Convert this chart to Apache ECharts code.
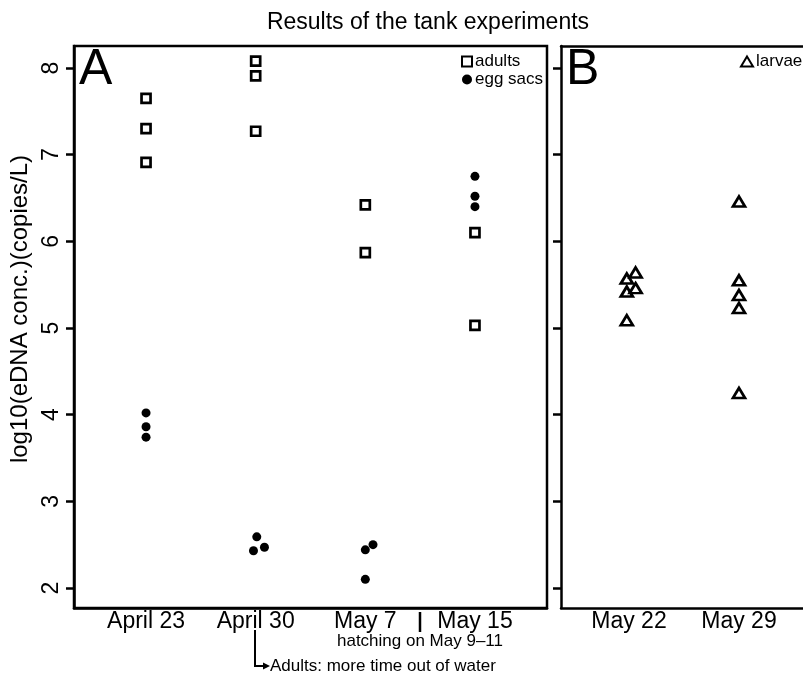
<!DOCTYPE html>
<html>
<head>
<meta charset="utf-8">
<script src="https://cdn.jsdelivr.net/npm/echarts@6/dist/echarts.min.js"></script>
<style>html,body{margin:0;padding:0;background:#fff}#c{width:803px;height:675px}</style>
</head>
<body>
<div id="c"></div>
<script>
const panelACategories = ['April 23', 'April 30', 'May 7', 'May 15'];
const panelBCategories = ['May 22', 'May 29'];
const yTicks = [2, 3, 4, 5, 6, 7, 8];
const adultsX = [1, 1, 1, 2, 2, 2, 3, 3, 4, 4];
const adultsY = [7.65, 7.30, 6.91, 8.08, 7.91, 7.27, 6.42, 5.87, 6.10, 5.03];
const eggX = [1, 1, 1, 2.01, 1.98, 2.08, 3, 3.07, 3, 4, 4, 4];
const eggY = [4.02, 3.86, 3.74, 2.59, 2.43, 2.47, 2.44, 2.50, 2.10, 6.75, 6.52, 6.40];
const larvaeX = [4.98, 5.06, 4.98, 5.06, 4.98, 6, 6, 6, 6, 6];
const larvaeY = [5.57, 5.64, 5.42, 5.46, 5.09, 6.46, 5.55, 5.38, 5.23, 4.25];

const FONT = 'Liberation Sans, Arial, sans-serif';
const zip = (xs, ys) => xs.map((x, i) => [x, ys[i]]);

const chart = echarts.init(document.getElementById('c'), null, {renderer: 'canvas'});
const yBase = {
  type: 'value', min: 1.769, max: 8.254,
  splitLine: {show: false},
  axisLine: {show: true, lineStyle: {color: '#000', width: 2.5}},
  axisTick: {show: true, length: 8, inside: false, customValues: yTicks, lineStyle: {color: '#000', width: 2.5}}
};
const xBase = {
  type: 'value', splitLine: {show: false},
  axisLine: {show: true, lineStyle: {color: '#000', width: 2.5}},
  axisTick: {show: false}
};
chart.setOption({
  animation: false,
  backgroundColor: '#fff',
  textStyle: {fontFamily: FONT},
  title: {
    text: 'Results of the tank experiments', left: 423, top: 6, textAlign: 'center',
    textStyle: {fontSize: 23, fontWeight: 'normal', color: '#000', fontFamily: FONT}
  },
  grid: [
    {left: 74, top: 46, width: 473, height: 562, show: true, borderColor: '#000', borderWidth: 2.5, containLabel: false},
    {left: 561, top: 46, width: 242, height: 562, show: false, containLabel: false}
  ],
  xAxis: [
    Object.assign({}, xBase, {gridIndex: 0, min: 0.343, max: 4.657,
      axisLabel: {customValues: [1, 2, 3, 4], formatter: v => panelACategories[Math.round(v) - 1], fontSize: 23, color: '#000', margin: 2, fontFamily: FONT}}),
    Object.assign({}, xBase, {gridIndex: 1, min: 4.382, max: 6.582,
      axisLabel: {customValues: [5, 6], formatter: v => panelBCategories[Math.round(v) - 5], fontSize: 23, color: '#000', margin: 2, fontFamily: FONT}}),
    Object.assign({}, xBase, {gridIndex: 1, min: 4.382, max: 6.582, position: 'top', axisLabel: {show: false}})
  ],
  yAxis: [
    Object.assign({}, yBase, {gridIndex: 0,
      name: 'log10(eDNA conc.)(copies/L)', nameLocation: 'middle', nameRotate: 90, nameGap: 30,
      nameTextStyle: {fontSize: 24, color: '#000', fontFamily: FONT, padding: [0, 0, 0, 36]},
      axisLabel: {customValues: yTicks, rotate: 90, fontSize: 23, color: '#000', margin: 11, fontFamily: FONT}}),
    Object.assign({}, yBase, {gridIndex: 1, axisLabel: {show: false}})
  ],
  legend: [
    {data: ['adults', 'egg sacs'], left: 461, top: 53, orient: 'vertical', itemWidth: 10, itemHeight: 10, itemGap: 1,
      padding: 0, textStyle: {fontSize: 17, lineHeight: 12, color: '#000', fontFamily: FONT, padding: [0, 0, 0, -2]}},
    {data: ['larvae'], left: 740, top: 53, orient: 'vertical', itemWidth: 12, itemHeight: 10,
      padding: 0, textStyle: {fontSize: 17, lineHeight: 12, color: '#000', fontFamily: FONT, padding: [0, 0, 0, -2]}}
  ],
  series: [
    {name: 'adults', type: 'scatter', xAxisIndex: 0, yAxisIndex: 0, data: zip(adultsX, adultsY),
      symbol: 'rect', symbolSize: 9, itemStyle: {color: '#fff', borderColor: '#000', borderWidth: 2.7, opacity: 1}},
    {name: 'egg sacs', type: 'scatter', xAxisIndex: 0, yAxisIndex: 0, data: zip(eggX, eggY),
      symbol: 'circle', symbolSize: 9, itemStyle: {color: '#000', opacity: 1}},
    {name: 'larvae', type: 'scatter', xAxisIndex: 1, yAxisIndex: 1, data: zip(larvaeX, larvaeY),
      symbol: 'triangle', symbolSize: [12, 10], itemStyle: {color: '#fff', borderColor: '#000', borderWidth: 2.7, opacity: 1}}
  ],
  graphic: [
    {type: 'text', left: 79, top: 45, style: {text: 'A', fontSize: 50, fill: '#000', fontFamily: FONT}},
    {type: 'text', left: 566, top: 45, style: {text: 'B', fontSize: 50, fill: '#000', fontFamily: FONT}},
    {type: 'line', shape: {x1: 420, y1: 612, x2: 420, y2: 632}, style: {stroke: '#000', lineWidth: 2.5}},
    {type: 'text', x: 420, y: 641, style: {text: 'hatching on May 9\u201311', fontSize: 17, fill: '#000', fontFamily: FONT, align: 'center', verticalAlign: 'middle'}},
    {type: 'polyline', shape: {points: [[255, 630], [255, 666], [264, 666]]}, style: {stroke: '#000', lineWidth: 2, fill: null}},
    {type: 'polygon', shape: {points: [[263, 662.5], [270, 666], [263, 669.5]]}, style: {fill: '#000'}},
    {type: 'text', x: 270, y: 666, style: {text: 'Adults: more time out of water', fontSize: 17, fill: '#000', fontFamily: FONT, align: 'left', verticalAlign: 'middle'}}
  ]
});
</script>
</body>
</html>
